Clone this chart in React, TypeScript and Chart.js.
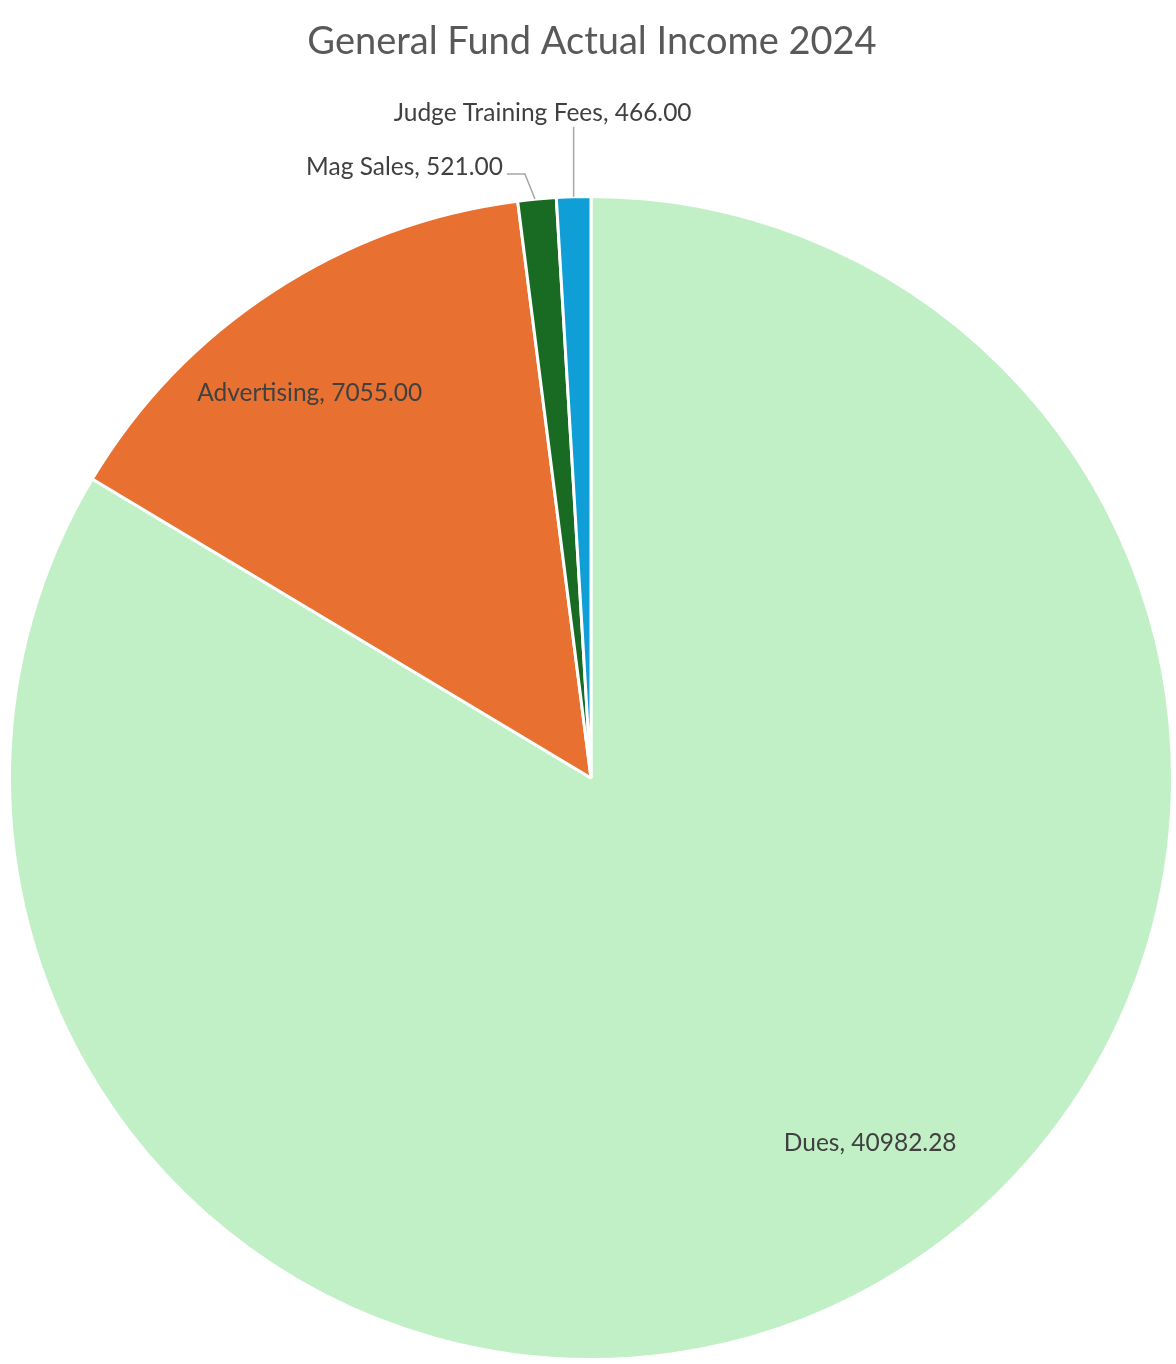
import { Chart, registerables } from "chart.js";
import { useEffect, useRef } from "react";

Chart.register(...registerables);

const categories = ["Dues", "Advertising", "Mag Sales", "Judge Training Fees"];
const amounts = [40982.28, 7055.0, 521.0, 466.0];
const colors = ["#c1efc6", "#e87132", "#196b24", "#0f9ed5"];

const FONT = "Lato, 'Open Sans', sans-serif";

const labelPlugin = {
    id: "pieLabels",
    afterDraw(chart: any) {
        const ctx = chart.ctx;
        const meta = chart.getDatasetMeta(0);
        ctx.save();
        // title
        ctx.fillStyle = "#595959";
        ctx.font = `38px ${FONT}`;
        ctx.textAlign = "center";
        ctx.textBaseline = "middle";
        ctx.fillText("General Fund Actual Income 2024", 592, 42);

        ctx.font = `24.5px ${FONT}`;
        ctx.fillStyle = "#404040";
        meta.data.forEach((arc: any, i: number) => {
            const text = `${categories[i]}, ${amounts[i].toFixed(2)}`;
            const mid = (arc.startAngle + arc.endAngle) / 2;
            const cx = arc.x, cy = arc.y, r = arc.outerRadius;
            if (i < 2) {
                const f = i === 0 ? 0.79 : 0.82;
                const a = mid + (i === 0 ? -7.9 : -3) * Math.PI / 180;
                ctx.textAlign = "center";
                ctx.fillText(text, cx + Math.cos(a) * r * f, cy + Math.sin(a) * r * f);
                return;
            }
            const ex = cx + Math.cos(mid) * r;
            const ey = cy + Math.sin(mid) * r;
            ctx.strokeStyle = "#a6a6a6";
            ctx.lineWidth = 1.5;
            ctx.beginPath();
            if (i === 2) {
                ctx.moveTo(ex - 2, ey);
                ctx.lineTo(ex - 12, ey - 25);
                ctx.lineTo(ex - 30, ey - 25);
                ctx.stroke();
                ctx.textAlign = "right";
                ctx.fillText(text, ex - 34, ey - 32);
            } else {
                ctx.moveTo(ex, ey);
                ctx.lineTo(ex, ey - 70);
                ctx.stroke();
                ctx.textAlign = "center";
                ctx.fillText(text, ex - 31, ey - 84);
            }
        });
        ctx.restore();
    },
};

const App: React.FC = () => {
    const chartRef = useRef<HTMLCanvasElement>(null);

    useEffect(() => {
        document.body.style.margin = "0";
        if (!chartRef.current) return;
        const chart = new Chart(chartRef.current, {
            type: "pie",
            data: {
                labels: categories,
                datasets: [
                    {
                        data: amounts,
                        backgroundColor: colors,
                        borderColor: "#ffffff",
                        borderWidth: 3,
                    },
                ],
            },
            options: {
                animation: false,
                responsive: false,
                layout: { padding: { top: 195, bottom: 3, left: 6, right: 0 } },
                plugins: { legend: { display: false }, tooltip: { enabled: false } },
            },
            plugins: [labelPlugin],
        });
        return () => chart.destroy();
    }, []);

    return (
        <div style={{ width: 1176, height: 1364, background: "#fff" }}>
            <canvas ref={chartRef} width={1176} height={1364}></canvas>
        </div>
    );
};

export default App;
